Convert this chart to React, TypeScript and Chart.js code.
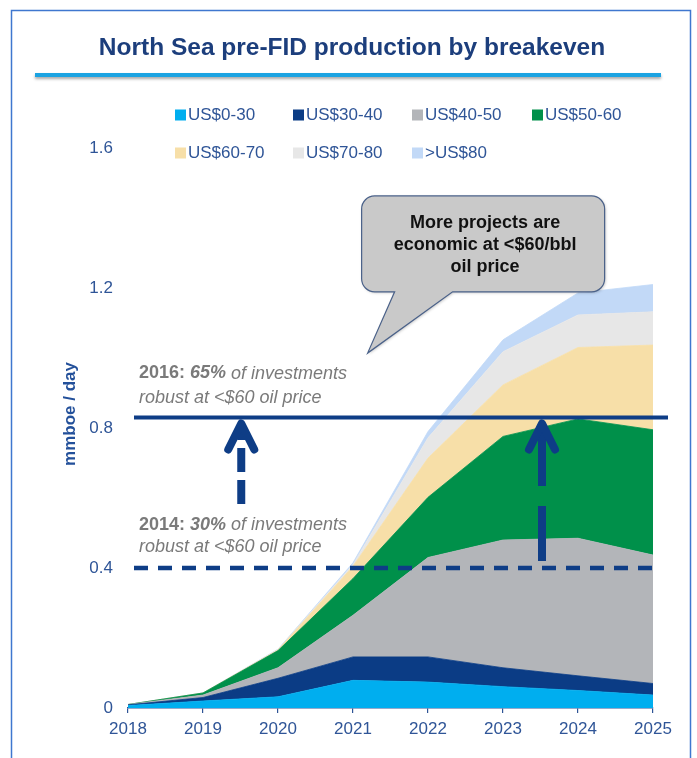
import React, { useEffect, useRef } from 'react';
import { Chart, registerables } from 'chart.js';

Chart.register(...registerables);

// ---------- data ----------
const years = ['2018', '2019', '2020', '2021', '2022', '2023', '2024', '2025'];
const seriesNames = ['US$0-30', 'US$30-40', 'US$40-50', 'US$50-60', 'US$60-70', 'US$70-80', '>US$80'];
const us0to30 = [0.007, 0.020, 0.032, 0.079, 0.074, 0.061, 0.050, 0.037];
const us30to40 = [0.002, 0.010, 0.053, 0.067, 0.072, 0.054, 0.042, 0.033];
const us40to50 = [0.001, 0.007, 0.030, 0.119, 0.284, 0.365, 0.393, 0.367];
const us50to60 = [0.000, 0.006, 0.049, 0.105, 0.172, 0.296, 0.341, 0.358];
const us60to70 = [0.000, 0.000, 0.002, 0.035, 0.112, 0.147, 0.204, 0.242];
const us70to80 = [0.000, 0.000, 0.001, 0.005, 0.058, 0.095, 0.093, 0.095];
const usOver80 = [0.000, 0.000, 0.001, 0.005, 0.018, 0.034, 0.063, 0.078];
const yTickValues = [0, 0.4, 0.8, 1.2, 1.6];
const yTickLabels = ['0', '0.4', '0.8', '1.2', '1.6'];
const robust2016 = 0.83;
const robust2014 = 0.4;
const arrowIndexLeft = 1.51;
const arrowIndexRight = 5.52;
const arrowBaseLeft = 0.583;
const arrowBaseRight = 0.42;

const titleText = 'North Sea pre-FID production by breakeven';
const yTitle = 'mmboe / day';
const calloutLines = ['More projects are', 'economic at <$60/bbl', 'oil price'];

// ---------- styles ----------
const colors = ['#00AEEF', '#0B3C85', '#B3B5B9', '#00904A', '#F7DFA8', '#E7E7E7', '#C2D9F7'];
const navy = '#0E3D86';
const axisBlue = '#2F5597';
const grayText = '#7A7A7A';
const FONT = '"Liberation Sans", Arial, Helvetica, sans-serif';

const seriesValues = [us0to30, us30to40, us40to50, us50to60, us60to70, us70to80, usOver80];

function drawRuns(ctx: CanvasRenderingContext2D, x: number, y: number, runs: [string, string][]) {
  let cx = x;
  for (const [t, f] of runs) {
    ctx.font = f;
    ctx.fillText(t, cx, y);
    cx += ctx.measureText(t).width;
  }
}

function drawArrow(ctx: CanvasRenderingContext2D, x: number, yBase: number, yTip: number, dash: number[]) {
  ctx.save();
  ctx.strokeStyle = navy;
  ctx.lineWidth = 8;
  ctx.lineCap = 'butt';
  ctx.setLineDash(dash);
  ctx.beginPath();
  ctx.moveTo(x, yBase);
  ctx.lineTo(x, yTip + 12);
  ctx.stroke();
  ctx.setLineDash([]);
  ctx.lineCap = 'round';
  ctx.lineJoin = 'round';
  ctx.beginPath();
  ctx.moveTo(x - 13, yTip + 31);
  ctx.lineTo(x, yTip + 5);
  ctx.lineTo(x + 13, yTip + 31);
  ctx.stroke();
  ctx.restore();
}

const overlayPlugin = {
  id: 'overlay',
  beforeDraw(chart: any) {
    const ctx: CanvasRenderingContext2D = chart.ctx;
    ctx.save();
    // frame
    ctx.strokeStyle = '#3F77CF';
    ctx.lineWidth = 1.5;
    ctx.strokeRect(11.5, 10.5, 679, 800);
    // title
    ctx.fillStyle = '#1C3E7C';
    ctx.font = `bold 24.5px ${FONT}`;
    ctx.textAlign = 'center';
    ctx.textBaseline = 'middle';
    ctx.fillText(titleText, 352, 48);
    // underline with shadow
    ctx.save();
    ctx.shadowColor = 'rgba(0,0,0,0.35)';
    ctx.shadowBlur = 3;
    ctx.shadowOffsetY = 2;
    ctx.strokeStyle = '#1BA3E2';
    ctx.lineWidth = 4;
    ctx.beginPath();
    ctx.moveTo(35, 75);
    ctx.lineTo(661, 75);
    ctx.stroke();
    ctx.restore();
    // legend
    const cols = [175, 293, 412, 532];
    const rows = [115, 153];
    ctx.textAlign = 'left';
    ctx.font = `17px ${FONT}`;
    seriesNames.forEach((name, i) => {
      const cx = cols[i % 4];
      const cy = rows[Math.floor(i / 4)];
      ctx.fillStyle = colors[i];
      ctx.fillRect(cx, cy - 5.5, 11, 11);
      ctx.fillStyle = axisBlue;
      ctx.fillText(name, cx + 13, cy);
    });
    // y axis title
    ctx.save();
    ctx.translate(70, 414);
    ctx.rotate(-Math.PI / 2);
    ctx.font = `bold 17px ${FONT}`;
    ctx.fillStyle = '#23509A';
    ctx.textAlign = 'center';
    ctx.fillText(yTitle, 0, 0);
    ctx.restore();
    ctx.restore();
  },
  afterDatasetsDraw(chart: any) {
    const ctx: CanvasRenderingContext2D = chart.ctx;
    const xs = chart.scales.x;
    const ys = chart.scales.y;
    const px = (i: number) => xs.getPixelForValue(i);
    const py = (v: number) => ys.getPixelForValue(v);
    const left = chart.chartArea.left;
    const right = chart.chartArea.right;
    ctx.save();

    // 2016 solid line
    const y16 = py(robust2016);
    ctx.strokeStyle = navy;
    ctx.lineWidth = 4;
    ctx.beginPath();
    ctx.moveTo(left + 6, y16);
    ctx.lineTo(right + 15, y16);
    ctx.stroke();

    // 2014 dashed line
    const y14 = py(robust2014);
    ctx.lineWidth = 4.5;
    ctx.setLineDash([14, 10]);
    ctx.beginPath();
    ctx.moveTo(left + 6, y14);
    ctx.lineTo(right + 9, y14);
    ctx.stroke();
    ctx.setLineDash([]);

    // arrows
    drawArrow(ctx, px(arrowIndexLeft), py(arrowBaseLeft), y16 + 1, [24, 8]);
    drawArrow(ctx, px(arrowIndexRight), py(arrowBaseRight), y16 + 1, [55, 20]);

    // annotation texts
    ctx.fillStyle = grayText;
    ctx.textAlign = 'left';
    ctx.textBaseline = 'middle';
    const tx = left + 11;
    drawRuns(ctx, tx, y16 - 44, [
      ['2016: ', `bold 18px ${FONT}`],
      ['65%', `italic bold 18px ${FONT}`],
      [' of investments', `italic 18px ${FONT}`],
    ]);
    drawRuns(ctx, tx, y16 - 20, [['robust at <$60 oil price', `italic 18px ${FONT}`]]);
    drawRuns(ctx, tx, y14 - 43, [
      ['2014: ', `bold 18px ${FONT}`],
      ['30%', `italic bold 18px ${FONT}`],
      [' of investments', `italic 18px ${FONT}`],
    ]);
    drawRuns(ctx, tx, y14 - 21, [['robust at <$60 oil price', `italic 18px ${FONT}`]]);

    // callout
    const L = px(3.115), R = px(6.355), T = py(1.463), B = py(1.189);
    const tipX = px(3.195), tipY = py(1.014);
    const b1 = px(3.555), b2 = px(4.328);
    const r = 13;
    ctx.beginPath();
    ctx.moveTo(L + r, T);
    ctx.lineTo(R - r, T);
    ctx.arcTo(R, T, R, T + r, r);
    ctx.lineTo(R, B - r);
    ctx.arcTo(R, B, R - r, B, r);
    ctx.lineTo(b2, B);
    ctx.lineTo(tipX, tipY);
    ctx.lineTo(b1, B);
    ctx.lineTo(L + r, B);
    ctx.arcTo(L, B, L, B - r, r);
    ctx.lineTo(L, T + r);
    ctx.arcTo(L, T, L + r, T, r);
    ctx.closePath();
    ctx.save();
    ctx.shadowColor = 'rgba(0,0,0,0.25)';
    ctx.shadowBlur = 3;
    ctx.shadowOffsetX = 1;
    ctx.shadowOffsetY = 1;
    ctx.fillStyle = '#C9C9C9';
    ctx.fill();
    ctx.restore();
    ctx.strokeStyle = '#4A6189';
    ctx.lineWidth = 1.2;
    ctx.stroke();
    ctx.fillStyle = '#111111';
    ctx.font = `bold 18px ${FONT}`;
    ctx.textAlign = 'center';
    const cx = (L + R) / 2 + 2;
    calloutLines.forEach((t, i) => ctx.fillText(t, cx, T + 27 + i * 22));
    ctx.restore();
  },
};

export default function App() {
  const ref = useRef<HTMLCanvasElement>(null);
  useEffect(() => {
    const canvas = ref.current;
    if (!canvas) return;
    const chart = new Chart(canvas, {
      type: 'line',
      data: {
        labels: years,
        datasets: seriesValues.map((vals, i) => ({
          label: seriesNames[i],
          data: vals,
          backgroundColor: colors[i],
          borderColor: colors[i],
          borderWidth: 0.8,
          pointRadius: 0,
          pointHoverRadius: 0,
          tension: 0,
          fill: i === 0 ? 'origin' : '-1',
        })),
      },
      options: {
        animation: false,
        responsive: false,
        devicePixelRatio: 1,
        layout: { padding: { top: 148, right: 44, bottom: 0, left: 0 } },
        plugins: {
          legend: { display: false },
          title: { display: false },
          tooltip: { enabled: false },
        },
        scales: {
          x: {
            type: 'category',
            offset: false,
            afterFit: (s: any) => { s.height = 50; },
            grid: { display: true, drawOnChartArea: false, drawTicks: true, tickLength: 5, color: axisBlue, lineWidth: 1.2 },
            border: { display: true, color: axisBlue, width: 1.5 },
            ticks: { color: axisBlue, font: { family: FONT, size: 17 }, padding: 6, maxRotation: 0, autoSkip: false },
          },
          y: {
            stacked: true,
            min: 0,
            max: 1.6,
            afterFit: (s: any) => { s.width = 128; },
            afterBuildTicks: (s: any) => { s.ticks = yTickValues.map((v) => ({ value: v })); },
            grid: { display: false, drawTicks: false },
            border: { display: false },
            ticks: {
              color: axisBlue,
              font: { family: FONT, size: 17 },
              padding: 15,
              callback: (v: any) => {
                const i = yTickValues.findIndex((t) => Math.abs(t - Number(v)) < 1e-9);
                return i >= 0 ? yTickLabels[i] : '';
              },
            },
          },
        },
      },
      plugins: [overlayPlugin],
    } as any);
    return () => chart.destroy();
  }, []);
  return (
    <div style={{ position: 'absolute', left: 0, top: 0, width: 697, height: 758, background: '#fff' }}>
      <canvas ref={ref} width={697} height={758} style={{ display: 'block', width: 697, height: 758 }} />
    </div>
  );
}
